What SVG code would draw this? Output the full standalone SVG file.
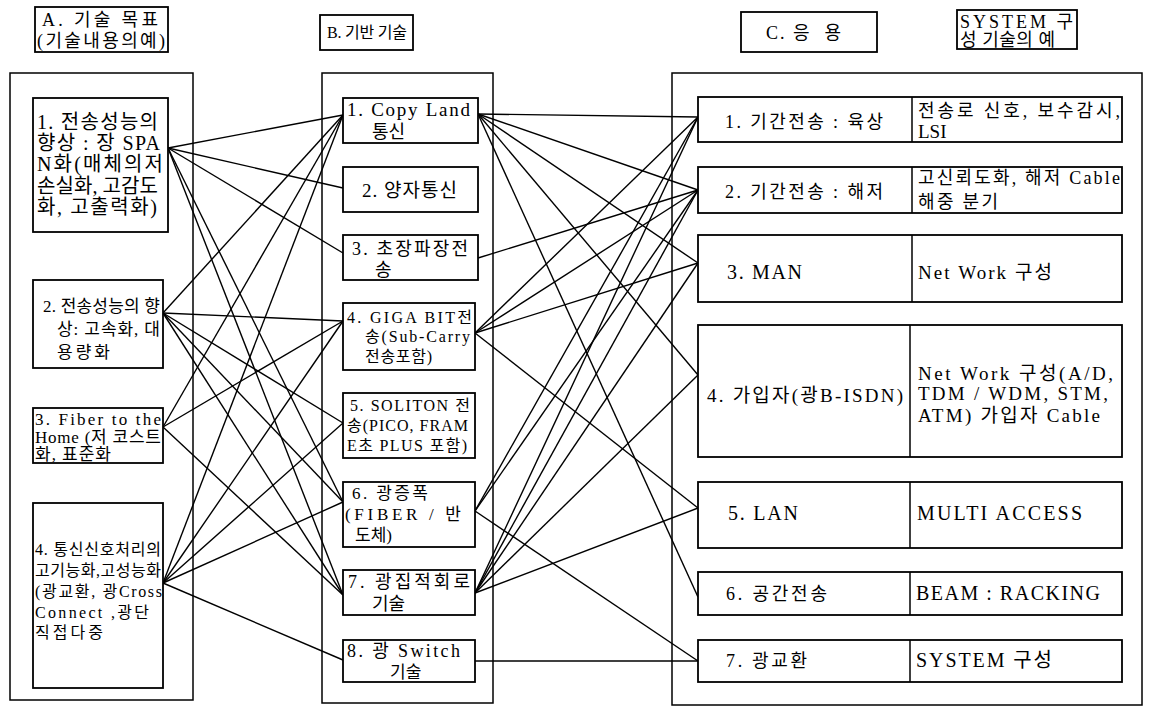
<svg xmlns="http://www.w3.org/2000/svg" width="1150" height="706" viewBox="0 0 1150 706">
  <style>
    .bg { fill: #ffffff; }
    .frame { fill: none; stroke: #000; stroke-width: 1.5; }
    .box { fill: #fff; stroke: #000; stroke-width: 1.8; }
    .div { stroke: #000; stroke-width: 1.5; }
    text { font-family: "Liberation Serif", "Noto Sans CJK KR", serif; fill: #000; }
    .f20 { font-size: 20px; }
    .f19 { font-size: 19px; }
    .f18 { font-size: 18px; }
    .f17 { font-size: 17px; }
    .f16 { font-size: 16px; }
    .f15 { font-size: 15px; }
    #connectors line { stroke: #000; stroke-width: 1.4; }
  </style>
  <rect class="bg" x="0" y="0" width="1150" height="706"/>

  <!-- column frames -->
  <g id="frames">
    <rect class="frame" x="10" y="73" width="183" height="627"/>
    <rect class="frame" x="322" y="73" width="171" height="630"/>
    <rect class="frame" x="672" y="73" width="470" height="632"/>
  </g>

  <!-- connectors: column A to column B, column B to column C -->
  <g id="connectors">
    <!-- A1 -->
    <line x1="168" y1="148" x2="343" y2="115"/>
    <line x1="168" y1="148" x2="343" y2="188"/>
    <line x1="168" y1="148" x2="343" y2="253"/>
    <line x1="168" y1="148" x2="343" y2="502"/>
    <line x1="168" y1="148" x2="343" y2="595"/>
    <!-- A2 -->
    <line x1="163" y1="313" x2="343" y2="115"/>
    <line x1="163" y1="313" x2="343" y2="321"/>
    <line x1="163" y1="313" x2="343" y2="423"/>
    <line x1="163" y1="313" x2="343" y2="502"/>
    <line x1="163" y1="313" x2="343" y2="595"/>
    <!-- A3 -->
    <line x1="163" y1="427" x2="343" y2="115"/>
    <line x1="163" y1="427" x2="343" y2="321"/>
    <line x1="163" y1="427" x2="343" y2="595"/>
    <!-- A4 -->
    <line x1="163" y1="583" x2="343" y2="115"/>
    <line x1="163" y1="583" x2="343" y2="321"/>
    <line x1="163" y1="583" x2="343" y2="423"/>
    <line x1="163" y1="583" x2="343" y2="502"/>
    <line x1="163" y1="583" x2="343" y2="660"/>
    <!-- B1 -->
    <line x1="478" y1="114" x2="698" y2="117"/>
    <line x1="478" y1="114" x2="698" y2="190"/>
    <line x1="478" y1="114" x2="698" y2="263"/>
    <line x1="478" y1="114" x2="698" y2="375"/>
    <line x1="478" y1="114" x2="698" y2="597"/>
    <!-- B3 -->
    <line x1="478" y1="258" x2="698" y2="190"/>
    <!-- B4 -->
    <line x1="475" y1="333" x2="698" y2="117"/>
    <line x1="475" y1="333" x2="698" y2="190"/>
    <line x1="475" y1="333" x2="698" y2="263"/>
    <line x1="475" y1="333" x2="698" y2="508"/>
    <!-- B6 -->
    <line x1="475" y1="511" x2="698" y2="117"/>
    <line x1="475" y1="511" x2="698" y2="190"/>
    <line x1="475" y1="511" x2="698" y2="661"/>
    <!-- B7 -->
    <line x1="475" y1="593" x2="698" y2="117"/>
    <line x1="475" y1="593" x2="698" y2="190"/>
    <line x1="475" y1="593" x2="698" y2="263"/>
    <line x1="475" y1="593" x2="698" y2="375"/>
    <line x1="475" y1="593" x2="698" y2="508"/>
    <!-- B8 -->
    <line x1="475" y1="661" x2="698" y2="661"/>
  </g>

  <!-- column headers -->
  <g id="head-a">
    <rect class="box" x="35" y="7" width="133" height="45"/>
    <text class="f18" x="42" y="26" textLength="116">A. 기술 목표</text>
    <text class="f18" x="37" y="47" textLength="128">(기술내용의예)</text>
  </g>
  <g id="head-b">
    <rect class="box" x="320" y="15" width="93" height="35"/>
    <text class="f16" x="327" y="38" xml:space="preserve" textLength="80">B. 기반 기술</text>
  </g>
  <g id="head-c">
    <rect class="box" x="741" y="12" width="136" height="40"/>
    <text class="f18" x="766" y="39" xml:space="preserve" textLength="75">C. 응  용</text>
  </g>
  <g id="head-system">
    <rect class="box" x="957" y="10" width="120" height="39"/>
    <text class="f18" x="960" y="28" textLength="113">SYSTEM 구</text>
    <text class="f18" x="960" y="46" textLength="95">성 기술의 예</text>
  </g>

  <!-- column A: technical goals -->
  <g id="a1">
    <rect class="box" x="33" y="98" width="135" height="134"/>
    <text class="f20" x="37" y="129" textLength="121">1. 전송성능의</text>
    <text class="f20" x="37" y="150" textLength="123">향상 : 장 SPA</text>
    <text class="f20" x="37" y="171" textLength="126">N화(매체의저</text>
    <text class="f20" x="37" y="193" textLength="121">손실화, 고감도</text>
    <text class="f20" x="37" y="214" textLength="120">화, 고출력화)</text>
  </g>
  <g id="a2">
    <rect class="box" x="33" y="280" width="130" height="88"/>
    <text class="f17" x="43" y="312" textLength="117">2. 전송성능의 향</text>
    <text class="f17" x="57" y="335" textLength="103">상: 고속화, 대</text>
    <text class="f17" x="57" y="358" textLength="53">용량화</text>
  </g>
  <g id="a3">
    <rect class="box" x="33" y="408" width="130" height="55"/>
    <text class="f17" x="35" y="425" textLength="126">3. Fiber to the</text>
    <text class="f17" x="35" y="443" textLength="126">Home (저 코스트</text>
    <text class="f17" x="35" y="460" textLength="76">화, 표준화</text>
  </g>
  <g id="a4">
    <rect class="box" x="33" y="503" width="130" height="185"/>
    <text class="f16" x="35" y="555" textLength="126">4. 통신신호처리의</text>
    <text class="f16" x="35" y="576" textLength="126">고기능화,고성능화</text>
    <text class="f16" x="35" y="597" textLength="127">(광교환, 광Cross</text>
    <text class="f16" x="35" y="618" textLength="114">Connect ,광단</text>
    <text class="f16" x="35" y="638" textLength="68">직접다중</text>
  </g>

  <!-- column B: base technologies -->
  <g id="b1">
    <rect class="box" x="343" y="98" width="135" height="45"/>
    <text class="f19" x="347" y="116" textLength="123">1. Copy Land</text>
    <text class="f18" x="372" y="138">통신</text>
  </g>
  <g id="b2">
    <rect class="box" x="343" y="167" width="135" height="45"/>
    <text class="f19" x="362" y="197" textLength="95">2. 양자통신</text>
  </g>
  <g id="b3">
    <rect class="box" x="343" y="235" width="135" height="45"/>
    <text class="f18" x="352" y="255" textLength="116">3. 초장파장전</text>
    <text class="f18" x="375" y="276">송</text>
  </g>
  <g id="b4">
    <rect class="box" x="343" y="303" width="132" height="67"/>
    <text class="f16" x="347" y="323" textLength="125">4. GIGA BIT전</text>
    <text class="f16" x="365" y="342" textLength="105">송(Sub-Carry</text>
    <text class="f16" x="365" y="362" textLength="67">전송포함)</text>
  </g>
  <g id="b5">
    <rect class="box" x="343" y="393" width="132" height="65"/>
    <text class="f16" x="350" y="411" textLength="120">5. SOLITON 전</text>
    <text class="f16" x="347" y="431" textLength="121">송(PICO, FRAM</text>
    <text class="f16" x="347" y="451" textLength="120">E초 PLUS 포함)</text>
  </g>
  <g id="b6">
    <rect class="box" x="343" y="482" width="132" height="65"/>
    <text class="f17" x="352" y="499" textLength="76">6. 광증폭</text>
    <text class="f17" x="345" y="520" textLength="116">(FIBER / 반</text>
    <text class="f17" x="355" y="541">도체)</text>
  </g>
  <g id="b7">
    <rect class="box" x="343" y="570" width="132" height="45"/>
    <text class="f18" x="348" y="588" textLength="122">7. 광집적회로</text>
    <text class="f18" x="372" y="610">기술</text>
  </g>
  <g id="b8">
    <rect class="box" x="343" y="640" width="132" height="42"/>
    <text class="f18" x="347" y="657" textLength="113">8. 광 Switch</text>
    <text class="f17" x="390" y="678">기술</text>
  </g>

  <!-- column C: applications with example system technologies -->
  <g id="c1">
    <rect class="box" x="698" y="97" width="424" height="45"/>
    <line class="div" x1="912" y1="97" x2="912" y2="142"/>
    <text class="f18" x="725" y="128" textLength="158">1. 기간전송 : 육상</text>
    <text class="f18" x="918" y="117" textLength="202">전송로 신호, 보수감시,</text>
    <text class="f19" x="918" y="138">LSI</text>
  </g>
  <g id="c2">
    <rect class="box" x="698" y="167" width="424" height="46"/>
    <line class="div" x1="912" y1="167" x2="912" y2="213"/>
    <text class="f18" x="725" y="198" textLength="158">2. 기간전송 : 해저</text>
    <text class="f18" x="918" y="184" textLength="202">고신뢰도화, 해저 Cable</text>
    <text class="f18" x="918" y="208" textLength="80">해중 분기</text>
  </g>
  <g id="c3">
    <rect class="box" x="698" y="235" width="424" height="67"/>
    <line class="div" x1="912" y1="235" x2="912" y2="302"/>
    <text class="f20" x="727" y="279" textLength="75">3. MAN</text>
    <text class="f19" x="918" y="279" textLength="134">Net Work 구성</text>
  </g>
  <g id="c4">
    <rect class="box" x="698" y="325" width="424" height="132"/>
    <line class="div" x1="910" y1="325" x2="910" y2="457"/>
    <text class="f19" x="707" y="402" textLength="196">4. 가입자(광B-ISDN)</text>
    <text class="f19" x="918" y="380" textLength="195">Net Work 구성(A/D,</text>
    <text class="f19" x="918" y="400" textLength="190">TDM / WDM, STM,</text>
    <text class="f19" x="918" y="422" textLength="182">ATM) 가입자 Cable</text>
  </g>
  <g id="c5">
    <rect class="box" x="698" y="482" width="424" height="66"/>
    <line class="div" x1="910" y1="482" x2="910" y2="548"/>
    <text class="f20" x="728" y="520" textLength="70">5. LAN</text>
    <text class="f20" x="917" y="520" textLength="165">MULTI ACCESS</text>
  </g>
  <g id="c6">
    <rect class="box" x="698" y="572" width="424" height="43"/>
    <line class="div" x1="910" y1="572" x2="910" y2="615"/>
    <text class="f18" x="726" y="600" textLength="101">6. 공간전송</text>
    <text class="f20" x="916" y="600" textLength="184">BEAM : RACKING</text>
  </g>
  <g id="c7">
    <rect class="box" x="698" y="640" width="424" height="42"/>
    <line class="div" x1="910" y1="640" x2="910" y2="682"/>
    <text class="f18" x="726" y="667" textLength="81">7. 광교환</text>
    <text class="f20" x="916" y="667" textLength="136">SYSTEM 구성</text>
  </g>
</svg>
